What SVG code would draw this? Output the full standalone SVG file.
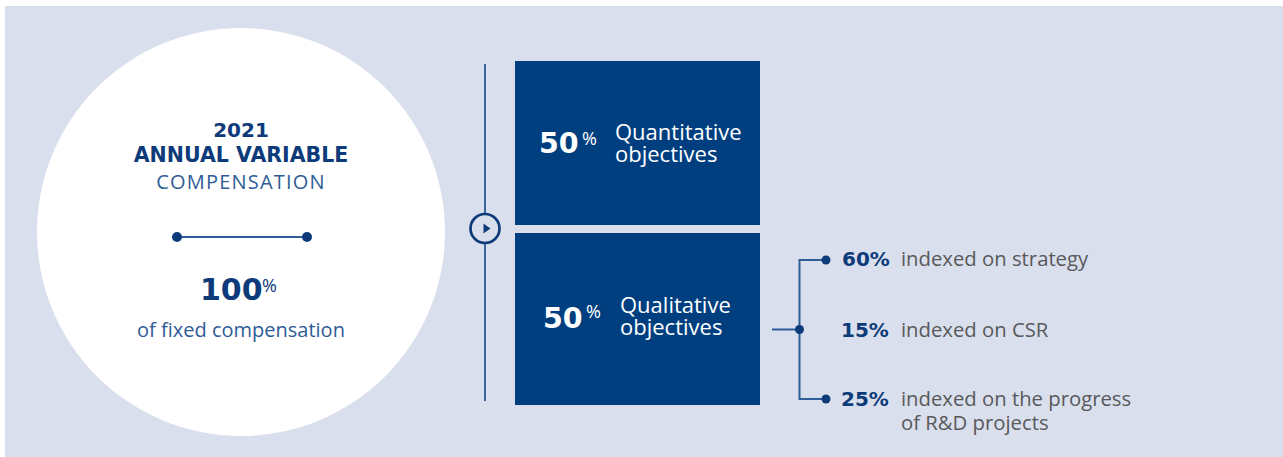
<svg xmlns="http://www.w3.org/2000/svg" width="1283" height="457" viewBox="0 0 1283 457">
<style>
.bold{font-family:"DejaVu Sans",sans-serif;font-weight:bold;fill:#0d3b7a}
.reg{font-family:"Open Sans",sans-serif;font-weight:normal}
.navy{fill:#0d3b7a}
.lblue{fill:#2f5c96}
.gray{fill:#58595b}
.white{fill:#ffffff}
.box{fill:#003f7f}
.conn{stroke:#2f5d99;stroke-width:2;fill:none}
.dot{fill:#0d3b7a}
</style>
<rect x="5" y="6" width="1278" height="451" fill="#d9dfec"/>
<g id="summary">
<circle cx="241" cy="232" r="204" fill="#ffffff"/>
<text x="241" y="137" text-anchor="middle" class="bold" font-size="20">2021</text>
<text x="241" y="162" text-anchor="middle" class="bold" font-size="20.5">ANNUAL VARIABLE</text>
<text x="241" y="189" text-anchor="middle" class="reg lblue" font-size="20" letter-spacing="1.2">COMPENSATION</text>
<line x1="177" y1="237" x2="307" y2="237" stroke="#2f5d99" stroke-width="2"/>
<circle cx="177" cy="237" r="5" class="dot"/>
<circle cx="307" cy="237" r="5" class="dot"/>
<text x="200" y="300" class="bold" font-size="30">100</text>
<text x="262" y="292" class="reg navy" font-size="18" font-weight="bold">%</text>
<text x="241" y="337" text-anchor="middle" class="reg lblue" font-size="20">of fixed compensation</text>
</g>
<g id="quantitative">
<rect x="515" y="61" width="245" height="164" class="box"/>
<text x="539" y="153" class="bold" font-size="28.5" style="fill:#fff">50</text>
<text x="582" y="145" class="reg white" font-size="18">%</text>
<text x="615" y="140" class="reg white" font-size="22" font-weight="500">Quantitative</text>
<text x="615" y="162" class="reg white" font-size="22" font-weight="500">objectives</text>
</g>
<g id="qualitative">
<rect x="515" y="233" width="245" height="172" class="box"/>
<text x="543" y="328" class="bold" font-size="28.5" style="fill:#fff">50</text>
<text x="586" y="318" class="reg white" font-size="18">%</text>
<text x="620" y="313" class="reg white" font-size="22" font-weight="500">Qualitative</text>
<text x="620" y="335" class="reg white" font-size="22" font-weight="500">objectives</text>
</g>
<g id="strategy">
<text x="842" y="266" class="bold" font-size="20">60%</text>
<text x="901" y="266" class="reg gray" font-size="20.3">indexed on strategy</text>
</g>
<g id="csr">
<text x="841" y="337" class="bold" font-size="20">15%</text>
<text x="901" y="337" class="reg gray" font-size="20.3">indexed on CSR</text>
</g>
<g id="rd">
<text x="841" y="406" class="bold" font-size="20">25%</text>
<text x="901" y="406" class="reg gray" font-size="20.3">indexed on the progress</text>
<text x="901" y="430" class="reg gray" font-size="20.3">of R&amp;D projects</text>
</g>
<g id="connectors">
<line x1="485" y1="64" x2="485" y2="401" stroke="#3a66a0" stroke-width="2"/>
<circle cx="485" cy="228.5" r="14.5" fill="#d9dfec" stroke="#0d3b7a" stroke-width="2.7"/>
<polygon points="483.5,223.5 490.5,228.5 483.5,233.5" fill="#0d3b7a"/>
<path class="conn" d="M772,329.5 H799 M826,260 H799.5 V399 H826"/>
<circle cx="799.5" cy="329.5" r="4.5" class="dot"/>
<circle cx="826" cy="260" r="4.5" class="dot"/>
<circle cx="826" cy="399" r="4.5" class="dot"/>
</g>
</svg>
